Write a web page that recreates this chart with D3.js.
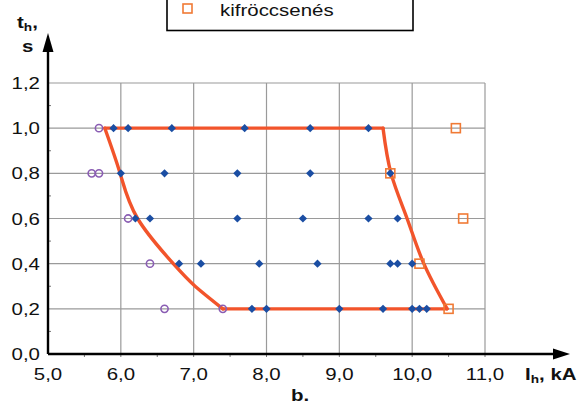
<!DOCTYPE html>
<html><head><meta charset="utf-8">
<script src="https://cdn.jsdelivr.net/npm/d3@7"></script>
<style>body{margin:0;background:#fff}svg{display:block;font-family:"Liberation Sans",Arial,sans-serif}</style>
</head><body><div id="chart"></div>
<script>
// tick values / labels
const xTicks = [5, 6, 7, 8, 9, 10, 11];
const yTicks = [0, 0.2, 0.4, 0.6, 0.8, 1.0, 1.2];
const legendLabels = ["kifröccsenés"];
// blue diamonds (measured points)
const blueI = [5.9, 6.1, 6.7, 7.7, 8.6, 9.4,
               6.0, 6.6, 7.6, 8.6, 9.7,
               6.2, 6.4, 7.6, 8.5, 9.4, 9.8,
               6.8, 7.1, 7.9, 8.7, 9.7, 9.8, 10.0,
               7.8, 8.0, 9.0, 9.6, 10.0, 10.1, 10.2];
const blueT = [1.0, 1.0, 1.0, 1.0, 1.0, 1.0,
               0.8, 0.8, 0.8, 0.8, 0.8,
               0.6, 0.6, 0.6, 0.6, 0.6, 0.6,
               0.4, 0.4, 0.4, 0.4, 0.4, 0.4, 0.4,
               0.2, 0.2, 0.2, 0.2, 0.2, 0.2, 0.2];
// purple open circles
const purpleI = [5.7, 5.6, 5.7, 6.1, 6.4, 6.6, 7.4];
const purpleT = [1.0, 0.8, 0.8, 0.6, 0.4, 0.2, 0.2];
// orange open squares (kifröccsenés)
const orangeI = [10.6, 9.7, 10.7, 10.1, 10.5];
const orangeT = [1.0, 0.8, 0.6, 0.4, 0.2];
// boundary curve
const topI = [5.78, 9.6];       const topT = [1.0, 1.0];
const bottomI = [7.4, 10.48];   const bottomT = [0.2, 0.2];
const leftI = [5.78, 5.99, 6.23, 6.72, 7.02, 7.4];
const leftT = [1.0, 0.8, 0.6, 0.4, 0.3, 0.2];
const rightI = [9.6, 9.71, 9.93, 10.16, 10.48];
const rightT = [1.0, 0.8, 0.6, 0.4, 0.2];

const W = 587, H = 406;
const svg = d3.select("#chart").append("svg").attr("width", W).attr("height", H);
const x = d3.scaleLinear().domain([5, 11]).range([48, 485]);
const y = d3.scaleLinear().domain([0, 1.2]).range([354, 83]);
const fmt = v => d3.format(".1f")(v).replace(".", ",");
const SX = 1.24, FS = 16.5;

// stretched text helper (the reference is horizontally stretched)
function stext(g, px, py, anchor, bold) {
  return g.append("text")
    .attr("transform", `translate(${px},${py}) scale(${SX},1)`)
    .attr("text-anchor", anchor).attr("font-size", FS)
    .attr("font-weight", bold ? "bold" : "normal").attr("fill", "#111");
}

// grid
svg.append("g").selectAll("line").data(xTicks.slice(1)).join("line")
  .attr("x1", d => x(d)).attr("x2", d => x(d)).attr("y1", y(0)).attr("y2", y(1.2))
  .attr("stroke", "#9a9a9a").attr("stroke-width", 1.2);
svg.append("g").selectAll("line").data(yTicks.slice(1)).join("line")
  .attr("x1", x(5)).attr("x2", x(11)).attr("y1", d => y(d)).attr("y2", d => y(d))
  .attr("stroke", "#9a9a9a").attr("stroke-width", 1.2);

// minor ticks
svg.append("g").selectAll("line").data(d3.range(5.5, 11.5, 0.5)).join("line")
  .attr("x1", d => x(d)).attr("x2", d => x(d)).attr("y1", y(0)).attr("y2", y(0) + 3)
  .attr("stroke", "#777").attr("stroke-width", 1);
svg.append("g").selectAll("line").data(d3.range(0.1, 1.2, 0.2)).join("line")
  .attr("x1", x(5)).attr("x2", x(5) + 3).attr("y1", d => y(d)).attr("y2", d => y(d))
  .attr("stroke", "#777").attr("stroke-width", 1);

// axes with arrows
svg.append("line").attr("x1", x(5)).attr("x2", 556).attr("y1", y(0)).attr("y2", y(0))
  .attr("stroke", "#000").attr("stroke-width", 2.4);
svg.append("path").attr("d", `M553,${y(0) - 5.5}L570,${y(0)}L553,${y(0) + 5.5}Z`).attr("fill", "#000");
svg.append("line").attr("x1", x(5)).attr("x2", x(5)).attr("y1", y(0)).attr("y2", 50)
  .attr("stroke", "#000").attr("stroke-width", 2.4);
svg.append("path").attr("d", `M${x(5) - 5.5},52L${x(5)},33L${x(5) + 5.5},52Z`).attr("fill", "#000");

// tick labels
const gx = svg.append("g");
xTicks.forEach(d => stext(gx, x(d), 380, "middle", false).text(fmt(d)));
const gy = svg.append("g");
yTicks.forEach(d => stext(gy, 40, y(d) + 6, "end", false).text(fmt(d)));

// axis titles
const yt = stext(svg, 17, 28, "start", true);
yt.append("tspan").text("t");
yt.append("tspan").attr("font-size", 11).attr("dy", 3).text("h");
yt.append("tspan").attr("dy", -3).text(",");
stext(svg, 22, 52, "start", true).text("s");
const xt = stext(svg, 525, 380, "start", true);
xt.append("tspan").text("I");
xt.append("tspan").attr("font-size", 11).attr("dy", 3).text("h");
xt.append("tspan").attr("dy", -3).text(", kA");
stext(svg, 300, 401, "middle", true).text("b.");

// boundary
const lineColor = "#f2542b";
const straight = d3.line().x(d => x(d[0])).y(d => y(d[1]));
const curved = d3.line().x(d => x(d[0])).y(d => y(d[1])).curve(d3.curveNatural);
const segs = [
  [d3.zip(topI, topT), straight],
  [d3.zip(bottomI, bottomT), straight],
  [d3.zip(leftI, leftT), curved],
  [d3.zip(rightI, rightT), curved]
];
segs.forEach(([pts, gen]) => {
  svg.append("path").attr("d", gen(pts)).attr("fill", "none")
    .attr("stroke", lineColor).attr("stroke-width", 3.4).attr("stroke-linecap", "round");
});

// markers
const orangeC = "#f07a35", blueC = "#1b4ea3", purpleC = "#8a5db3";
svg.append("g").selectAll("rect").data(d3.zip(orangeI, orangeT)).join("rect")
  .attr("x", d => x(d[0]) - 4.5).attr("y", d => y(d[1]) - 4.5).attr("width", 9).attr("height", 9)
  .attr("fill", "none").attr("stroke", orangeC).attr("stroke-width", 1.6);
svg.append("g").selectAll("path").data(d3.zip(blueI, blueT)).join("path")
  .attr("d", d3.symbol(d3.symbolSquare, 34)())
  .attr("transform", d => `translate(${x(d[0])},${y(d[1])}) rotate(45)`)
  .attr("fill", blueC);
svg.append("g").selectAll("circle").data(d3.zip(purpleI, purpleT)).join("circle")
  .attr("cx", d => x(d[0])).attr("cy", d => y(d[1])).attr("r", 3.6)
  .attr("fill", "none").attr("stroke", purpleC).attr("stroke-width", 1.6);

// legend (top part cut off by the frame)
svg.append("rect").attr("x", 167).attr("y", -10).attr("width", 246).attr("height", 40.5)
  .attr("fill", "#fff").attr("stroke", "#000").attr("stroke-width", 1.6);
svg.append("rect").attr("x", 183).attr("y", 4).attr("width", 9).attr("height", 9)
  .attr("fill", "none").attr("stroke", orangeC).attr("stroke-width", 1.6);
stext(svg, 220, 16, "start", false).text(legendLabels[0]);
</script></body></html>
